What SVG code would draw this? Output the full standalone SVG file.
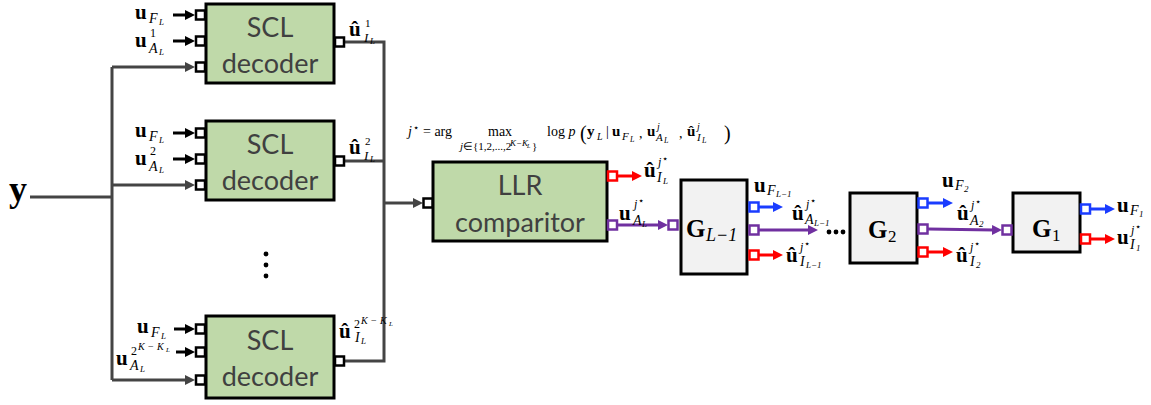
<svg xmlns="http://www.w3.org/2000/svg" width="1151" height="405" viewBox="0 0 1151 405">
<style>
.box{fill:#bfd9a9;stroke:#000;stroke-width:3}
.gbox{fill:#f2f2f2;stroke:#000;stroke-width:3}
.port{fill:#fff;stroke:#000;stroke-width:2.5}
.pr{fill:#fff;stroke:#ff0000;stroke-width:2.5}
.pb{fill:#fff;stroke:#1a3cff;stroke-width:2.5}
.pp{fill:#fff;stroke:#7030a0;stroke-width:2.5}
.bt{font-family:Lato,"Open Sans",sans-serif;font-size:27px;fill:#404040;text-anchor:middle}
.wire{stroke:#444;stroke-width:3;fill:none}
.wb{stroke:#000;stroke-width:3;fill:none}
.wr{stroke:#ff0000;stroke-width:3;fill:none}
.wbl{stroke:#1a3cff;stroke-width:3;fill:none}
.wp{stroke:#7030a0;stroke-width:3;fill:none}
text{font-family:"Liberation Serif",serif;fill:#000}
.mb{font-weight:bold;font-size:21px}
.fb{font-weight:bold;font-size:15px}
.mi{font-style:italic;font-size:14px}
.mi2{font-style:italic;font-size:13px}
.ms{font-style:italic;font-size:9px}
.mr{font-size:12px}
.mr2{font-size:11px}
.mj{font-style:italic;font-size:12px}
.st{font-size:10px}
.kk{font-style:italic;font-size:10px}
.kr{font-size:10px}
.k7{font-style:italic;font-size:7px}
.fr{font-size:14px}
.G{font-weight:bold;font-size:25px}
.Gs{font-style:italic;font-size:18px}
.Gn{font-size:17px}
</style>
<defs>
<marker id="ag" markerUnits="userSpaceOnUse" markerWidth="10" markerHeight="10" refX="2" refY="5" orient="auto"><path d="M0,0 L10,5 L0,10 z" fill="#444"/></marker>
<marker id="ab" markerUnits="userSpaceOnUse" markerWidth="10" markerHeight="10" refX="2" refY="5" orient="auto"><path d="M0,0 L10,5 L0,10 z" fill="#000"/></marker>
<marker id="ar" markerUnits="userSpaceOnUse" markerWidth="10" markerHeight="10" refX="2" refY="5" orient="auto"><path d="M0,0 L10,5 L0,10 z" fill="#ff0000"/></marker>
<marker id="abl" markerUnits="userSpaceOnUse" markerWidth="10" markerHeight="10" refX="2" refY="5" orient="auto"><path d="M0,0 L10,5 L0,10 z" fill="#1a3cff"/></marker>
<marker id="ap" markerUnits="userSpaceOnUse" markerWidth="10" markerHeight="10" refX="2" refY="5" orient="auto"><path d="M0,0 L10,5 L0,10 z" fill="#7030a0"/></marker>
</defs>

<g id="connectors">
<line class="wire" x1="30" y1="197" x2="112" y2="197"/>
<line class="wire" x1="112" y1="67" x2="112" y2="380"/>
<line class="wire" x1="112" y1="67" x2="187" y2="67" marker-end="url(#ag)"/>
<line class="wire" x1="112" y1="185" x2="187" y2="185" marker-end="url(#ag)"/>
<line class="wire" x1="112" y1="380" x2="187" y2="380" marker-end="url(#ag)"/>
<line class="wb" x1="173" y1="15" x2="187" y2="15" marker-end="url(#ab)"/>
<line class="wb" x1="173" y1="41" x2="187" y2="41" marker-end="url(#ab)"/>
<line class="wb" x1="173" y1="133" x2="187" y2="133" marker-end="url(#ab)"/>
<line class="wb" x1="173" y1="159" x2="187" y2="159" marker-end="url(#ab)"/>
<line class="wb" x1="174" y1="329" x2="187" y2="329" marker-end="url(#ab)"/>
<line class="wb" x1="176" y1="352" x2="187" y2="352" marker-end="url(#ab)"/>
<path class="wire" d="M345,42 H384 V361 H345"/>
<line class="wire" x1="345" y1="161" x2="384" y2="161"/>
<line class="wire" x1="384" y1="203" x2="415" y2="203" marker-end="url(#ag)"/>
<line class="wr" x1="618" y1="176" x2="634" y2="176" marker-end="url(#ar)"/>
<line class="wp" x1="618" y1="225" x2="660" y2="225" marker-end="url(#ap)"/>
<line class="wbl" x1="759" y1="207" x2="775" y2="207" marker-end="url(#abl)"/>
<line class="wp" x1="759" y1="230" x2="810" y2="230" marker-end="url(#ap)"/>
<line class="wr" x1="759" y1="255" x2="775" y2="255" marker-end="url(#ar)"/>
<line class="wbl" x1="928" y1="203" x2="945" y2="203" marker-end="url(#abl)"/>
<line class="wp" x1="928" y1="229" x2="994" y2="230" marker-end="url(#ap)"/>
<line class="wr" x1="928" y1="252" x2="945" y2="252" marker-end="url(#ar)"/>
<line class="wbl" x1="1090" y1="209" x2="1107" y2="209" marker-end="url(#abl)"/>
<line class="wr" x1="1090" y1="239" x2="1107" y2="239" marker-end="url(#ar)"/>
</g>

<g id="y-input">
<text x="9" y="201" style="font-weight:bold;font-size:36px">y</text>
</g>

<g id="scl1">
<rect class="box" x="206" y="4" width="128" height="79"/>
<text class="bt" x="270" y="37">SCL</text>
<text class="bt" x="270" y="73">decoder</text>
<rect class="port" x="196" y="10.5" width="9" height="9"/>
<rect class="port" x="196" y="36.5" width="9" height="9"/>
<rect class="port" x="196" y="62.5" width="9" height="9"/>
<rect class="port" x="335" y="37.5" width="9" height="9"/>
<text class="mb" x="135" y="19">u</text><text class="mi" x="149" y="23">F</text><text class="ms" x="159" y="25">L</text>
<text class="mb" x="135" y="47">u</text><text class="mr" x="150" y="37">1</text><text class="mi" x="149" y="53">A</text><text class="ms" x="159" y="55">L</text>
<text class="mb" x="349" y="36">û</text><text class="mr2" x="365" y="27">1</text><text class="mi2" x="364" y="42">I</text><text class="ms" x="370" y="44">L</text>
</g>

<g id="scl2">
<rect class="box" x="206" y="121" width="128" height="79"/>
<text class="bt" x="270" y="154">SCL</text>
<text class="bt" x="270" y="190">decoder</text>
<rect class="port" x="196" y="128.5" width="9" height="9"/>
<rect class="port" x="196" y="154.5" width="9" height="9"/>
<rect class="port" x="196" y="180.5" width="9" height="9"/>
<rect class="port" x="335" y="156.5" width="9" height="9"/>
<text class="mb" x="135" y="137">u</text><text class="mi" x="149" y="141">F</text><text class="ms" x="159" y="143">L</text>
<text class="mb" x="135" y="165">u</text><text class="mr" x="150" y="155">2</text><text class="mi" x="149" y="171">A</text><text class="ms" x="159" y="173">L</text>
<text class="mb" x="349" y="154">û</text><text class="mr2" x="365" y="145">2</text><text class="mi2" x="364" y="160">I</text><text class="ms" x="370" y="162">L</text>
</g>

<g id="dots-v">
<circle cx="266" cy="254" r="2.4" fill="#000"/>
<circle cx="266" cy="265" r="2.4" fill="#000"/>
<circle cx="266" cy="276" r="2.4" fill="#000"/>
</g>

<g id="scl3">
<rect class="box" x="206" y="316" width="128" height="82"/>
<text class="bt" x="270" y="350">SCL</text>
<text class="bt" x="270" y="386">decoder</text>
<rect class="port" x="196" y="324.5" width="9" height="9"/>
<rect class="port" x="196" y="347.5" width="9" height="9"/>
<rect class="port" x="196" y="375.5" width="9" height="9"/>
<rect class="port" x="335" y="356.5" width="9" height="9"/>
<text class="mb" x="137" y="333">u</text><text class="mi" x="151" y="337">F</text><text class="ms" x="161" y="339">L</text>
<text class="mb" x="116" y="365">u</text><text class="mr" x="131" y="355">2</text><text class="kk" x="138" y="350">K</text><text class="kr" x="148" y="350">−</text><text class="kk" x="157" y="350">K</text><text class="k7" x="166" y="352">L</text><text class="mi" x="130" y="370">A</text><text class="ms" x="140" y="372">L</text>
<text class="mb" x="339" y="338">û</text><text class="mr" x="354" y="328">2</text><text class="kk" x="361" y="324">K</text><text class="kr" x="371" y="324">−</text><text class="kk" x="380" y="324">K</text><text class="k7" x="389" y="326">L</text><text class="mi" x="355" y="342">I</text><text class="ms" x="361" y="344">L</text>
</g>

<g id="formula">
<text class="fr" x="408" y="136" font-style="italic">j</text>
<text class="st" x="413" y="131">⋆</text>
<text class="fr" x="423" y="136">= arg</text>
<text x="488" y="136" style="font-size:14px">max</text>
<text x="460" y="150" style="font-size:11px"><tspan font-style="italic">j</tspan>∈{1,2,...,2</text>
<text x="510" y="146" style="font-size:9px;font-style:italic">K−K</text>
<text x="527" y="148" style="font-size:6px;font-style:italic">L</text>
<text x="532" y="150" style="font-size:11px">}</text>
<text x="547" y="136" style="font-size:14px">log <tspan font-style="italic">p</tspan></text>
<text x="580" y="140" style="font-size:20px">(</text>
<text class="fb" x="587" y="136">y</text><text x="597" y="140" style="font-size:10px;font-style:italic">L</text>
<text x="606" y="136" style="font-size:14px">|</text>
<text class="fb" x="612" y="136">u</text><text x="622" y="140" style="font-size:11px;font-style:italic">F</text><text x="630" y="142" style="font-size:8px;font-style:italic">L</text>
<text x="639" y="138" style="font-size:14px">,</text>
<text class="fb" x="647" y="136">u</text><text x="657" y="130" style="font-size:10px;font-style:italic">j</text><text x="656" y="141" style="font-size:11px;font-style:italic">A</text><text x="664" y="143" style="font-size:8px;font-style:italic">L</text>
<text x="679" y="138" style="font-size:14px">,</text>
<text class="fb" x="687" y="136">û</text><text x="697" y="130" style="font-size:10px;font-style:italic">j</text><text x="697" y="141" style="font-size:11px;font-style:italic">I</text><text x="702" y="143" style="font-size:8px;font-style:italic">L</text>
<text x="724" y="140" style="font-size:20px">)</text>
</g>

<g id="llr">
<rect class="box" x="433" y="162" width="174" height="79"/>
<text class="bt" x="520" y="195">LLR</text>
<text class="bt" x="520" y="232">comparitor</text>
<rect class="port" x="423.5" y="198.5" width="9" height="9"/>
<rect class="pr" x="608" y="171.5" width="9" height="9"/>
<rect class="pp" x="608" y="220.5" width="9" height="9"/>
<text class="mb" x="644" y="177">û</text><text class="mj" x="658" y="166">j</text><text class="st" x="662" y="162">⋆</text><text class="mi" x="657" y="182">I</text><text class="ms" x="663" y="184">L</text>
<text class="mb" x="619" y="220">u</text><text class="mj" x="634" y="208">j</text><text class="st" x="638" y="204">⋆</text><text class="mi" x="633" y="225">A</text><text class="ms" x="642" y="227">L</text>
</g>

<g id="g-lm1">
<rect class="gbox" x="681" y="180" width="66" height="94"/>
<text class="G" x="686" y="237">G</text><text class="Gs" x="706" y="241">L−1</text>
<rect class="pp" x="668.5" y="220.5" width="9" height="9"/>
<rect class="pb" x="749.5" y="202.5" width="9" height="9"/>
<rect class="pp" x="749.5" y="225.5" width="9" height="9"/>
<rect class="pr" x="749.5" y="250.5" width="9" height="9"/>
<text class="mb" x="754" y="192">u</text><text class="mi" x="767" y="195">F</text><text class="ms" x="776" y="197">L−1</text>
<text class="mb" x="792" y="220">û</text><text class="mj" x="806" y="208">j</text><text class="st" x="810" y="204">⋆</text><text class="mi" x="805" y="224">A</text><text class="ms" x="814" y="226">L−1</text>
<text class="mb" x="786" y="262">û</text><text class="mj" x="800" y="251">j</text><text class="st" x="804" y="247">⋆</text><text class="mi" x="800" y="266">I</text><text class="ms" x="806" y="268">L−1</text>
</g>

<g id="dots-h">
<circle cx="829" cy="232" r="2.4" fill="#000"/>
<circle cx="836" cy="232" r="2.4" fill="#000"/>
<circle cx="843" cy="232" r="2.4" fill="#000"/>
</g>

<g id="g2">
<rect class="gbox" x="850" y="193" width="67" height="70"/>
<text class="G" x="868" y="238">G</text><text class="Gn" x="888" y="242">2</text>
<rect class="pb" x="918.5" y="198.5" width="9" height="9"/>
<rect class="pp" x="918.5" y="224.5" width="9" height="9"/>
<rect class="pr" x="918.5" y="247.5" width="9" height="9"/>
<text class="mb" x="942" y="187">u</text><text class="mi" x="955" y="190">F</text><text class="ms" x="964" y="192">2</text>
<text class="mb" x="957" y="220">û</text><text class="mj" x="971" y="209">j</text><text class="st" x="975" y="205">⋆</text><text class="mi" x="970" y="225">A</text><text class="ms" x="979" y="227">2</text>
<text class="mb" x="956" y="262">û</text><text class="mj" x="970" y="251">j</text><text class="st" x="974" y="247">⋆</text><text class="mi" x="970" y="266">I</text><text class="ms" x="976" y="268">2</text>
</g>

<g id="g1">
<rect class="gbox" x="1013" y="193" width="67" height="59"/>
<text class="G" x="1032" y="237">G</text><text class="Gn" x="1052" y="241">1</text>
<rect class="pp" x="1002.5" y="225.5" width="9" height="9"/>
<rect class="pb" x="1081" y="204.5" width="9" height="9"/>
<rect class="pr" x="1081" y="234.5" width="9" height="9"/>
<text class="mb" x="1117" y="212">u</text><text class="mi" x="1130" y="215">F</text><text class="ms" x="1139" y="217">1</text>
<text class="mb" x="1117" y="244">u</text><text class="mj" x="1131" y="234">j</text><text class="st" x="1135" y="230">⋆</text><text class="mi" x="1130" y="249">I</text><text class="ms" x="1136" y="251">1</text>
</g>
</svg>
